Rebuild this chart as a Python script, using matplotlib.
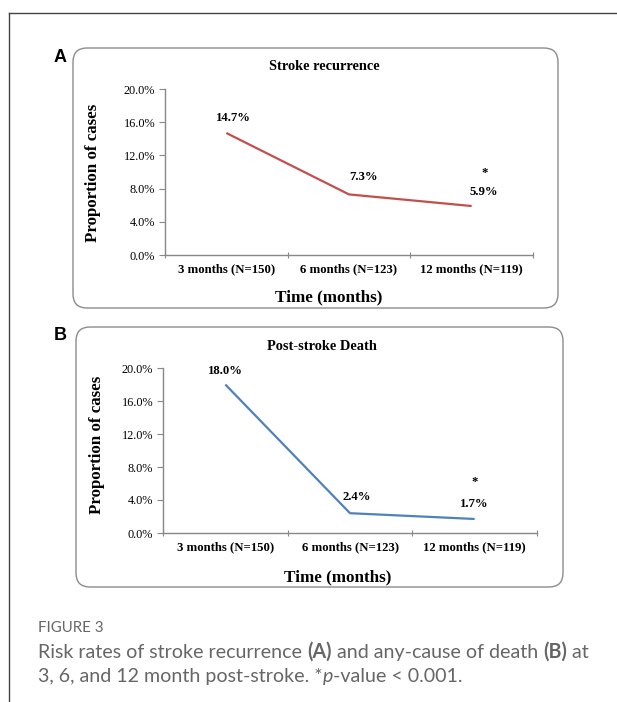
import matplotlib
matplotlib.use("Agg")
import matplotlib.pyplot as plt
from matplotlib.patches import FancyBboxPatch
from matplotlib.lines import Line2D

# ---------------- data ----------------
categories = ["3 months (N=150)", "6 months (N=123)", "12 months (N=119)"]
recurrence = [14.7, 7.3, 5.9]
death = [18.0, 2.4, 1.7]
yticks = [0, 4, 8, 12, 16, 20]
ytick_labels = ["0.0%", "4.0%", "8.0%", "12.0%", "16.0%", "20.0%"]
titles = ["Stroke recurrence", "Post-stroke Death"]
panel_letters = ["A", "B"]
xlabel = "Time (months)"
ylabel = "Proportion of cases"
caption_title = "FIGURE 3"

W, H = 617, 702
fig = plt.figure(figsize=(W / 100, H / 100), dpi=100)

# overlay axes in pixel units
ov = fig.add_axes([0, 0, 1, 1])
ov.set_xlim(0, W)
ov.set_ylim(H, 0)
ov.axis("off")
ov.set_zorder(0)

# outer frame lines (top & left)
ov.add_line(Line2D([9, W], [12.5, 12.5], color="#444444", lw=1.0))
ov.add_line(Line2D([9, 9], [12.5, H], color="#444444", lw=1.0))

serif = "Liberation Serif"
sans = "Liberation Sans"


def fa(x0, y0, x1, y1):
    """pixel box (x0,y_top,x1,y_bottom) -> fig axes rect"""
    return [x0 / W, 1 - y1 / H, (x1 - x0) / W, (y1 - y0) / H]


panels = [
    dict(box=(73, 48, 558, 308), ax=(165, 89, 533, 255), data=recurrence,
         color="#C0504D", letter=(60, 58), title=(324, 67), xl=(329, 297),
         yl=(93, 173),
         offsets=[(7, 15), (15, 17), (12, 14)], star=(13, 33)),
    dict(box=(76, 327, 563, 587), ax=(163, 368, 537, 533), data=death,
         color="#4F81BD", letter=(60, 336), title=(322, 346), xl=(338, 577),
         yl=(97, 445),
         offsets=[(0, 14), (7, 16), (0, 15)], star=(0, 37)),
]

for i, p in enumerate(panels):
    bx0, by0, bx1, by1 = p["box"]
    ov.add_patch(FancyBboxPatch((bx0, by0), bx1 - bx0, by1 - by0,
                                boxstyle="round,pad=0,rounding_size=14",
                                fc="white", ec="#8c8c8c", lw=1.0))
    ov.text(p["letter"][0], p["letter"][1], panel_letters[i], fontsize=13,
            fontweight="bold", family=sans, ha="center", va="center")
    ov.text(p["title"][0], p["title"][1], titles[i], fontsize=10.4,
            fontweight="bold", family=serif, ha="center", va="center")
    ov.text(p["xl"][0], p["xl"][1], xlabel, fontsize=12.3,
            fontweight="bold", family=serif, ha="center", va="center")
    ov.text(p["yl"][0], p["yl"][1], ylabel, fontsize=12.2, rotation=90,
            fontweight="bold", family=serif, ha="center", va="center")

    ax = fig.add_axes(fa(*p["ax"]))
    ax.set_zorder(1)
    ax.patch.set_alpha(0)
    xs = list(range(len(categories)))
    ax.plot(xs, p["data"], color=p["color"], lw=1.6, solid_capstyle="butt")
    ax.set_xlim(-0.5, len(categories) - 0.5)
    ax.set_ylim(0, 20)
    ax.set_yticks(yticks)
    ax.set_yticklabels(ytick_labels, family=serif, fontsize=8.8)
    ax.set_xticks([x - 0.5 for x in xs] + [len(categories) - 0.5])
    ax.set_xticklabels([])
    ax.set_xticks(xs, minor=True)
    ax.set_xticklabels(categories, minor=True, family=serif, fontsize=9.2,
                       fontweight="bold")
    ax.tick_params(axis="x", which="minor", length=0, pad=6)
    ax.tick_params(axis="x", which="major", length=5, direction="inout",
                   color="#888888")
    ax.tick_params(axis="y", length=4, color="#888888", pad=3)
    for s in ["top", "right"]:
        ax.spines[s].set_visible(False)
    for s in ["left", "bottom"]:
        ax.spines[s].set_color("#888888")
        ax.spines[s].set_linewidth(1.0)

    for j, v in enumerate(p["data"]):
        dx, dy = p["offsets"][j]
        if i == 1 and j == 1:
            ax.annotate(f"{v:.1f}%", (j, v), xytext=(dx, dy),
                        textcoords="offset pixels", ha="center", va="center",
                        family=serif, fontsize=9.2, fontweight="bold",
                        arrowprops=dict(arrowstyle="-", color="#888888",
                                        lw=0.8, shrinkA=5, shrinkB=0))
        else:
            ax.annotate(f"{v:.1f}%", (j, v), xytext=(dx, dy),
                        textcoords="offset pixels", ha="center", va="center",
                        family=serif, fontsize=9.2, fontweight="bold")
    j = len(p["data"]) - 1
    ax.annotate("*", (j, p["data"][j]), xytext=p["star"],
                textcoords="offset pixels", ha="center", va="center",
                family=serif, fontsize=9.2, fontweight="bold")

# ---------------- caption ----------------
cap_color = "#666666"
cfont = "Lato"
ov.text(38, 628, caption_title, fontsize=10.8, family=cfont, color=cap_color,
        ha="left", va="center")

fig.canvas.draw()
renderer = fig.canvas.get_renderer()


def seg_line(x, y, segs, size=14.1):
    for txt, style in segs:
        kw = dict(fontsize=size, family=cfont, color=cap_color, ha="left",
                  va="baseline")
        if style == "b":
            kw["fontweight"] = "bold"
        if style == "i":
            kw["fontstyle"] = "italic"
        t = ov.text(x, y, txt, **kw)
        bb = t.get_window_extent(renderer=renderer)
        x += bb.width


seg_line(38, 658, [("Risk rates of stroke recurrence ", "n"), ("(A)", "b"),
                   (" and any-cause of death ", "n"), ("(B)", "b"),
                   (" at", "n")])
seg_line(38, 682, [("3, 6, and 12 month post-stroke. *", "n"), ("p", "i"),
                   ("-value < 0.001.", "n")])

fig.savefig("out.png", dpi=100)
